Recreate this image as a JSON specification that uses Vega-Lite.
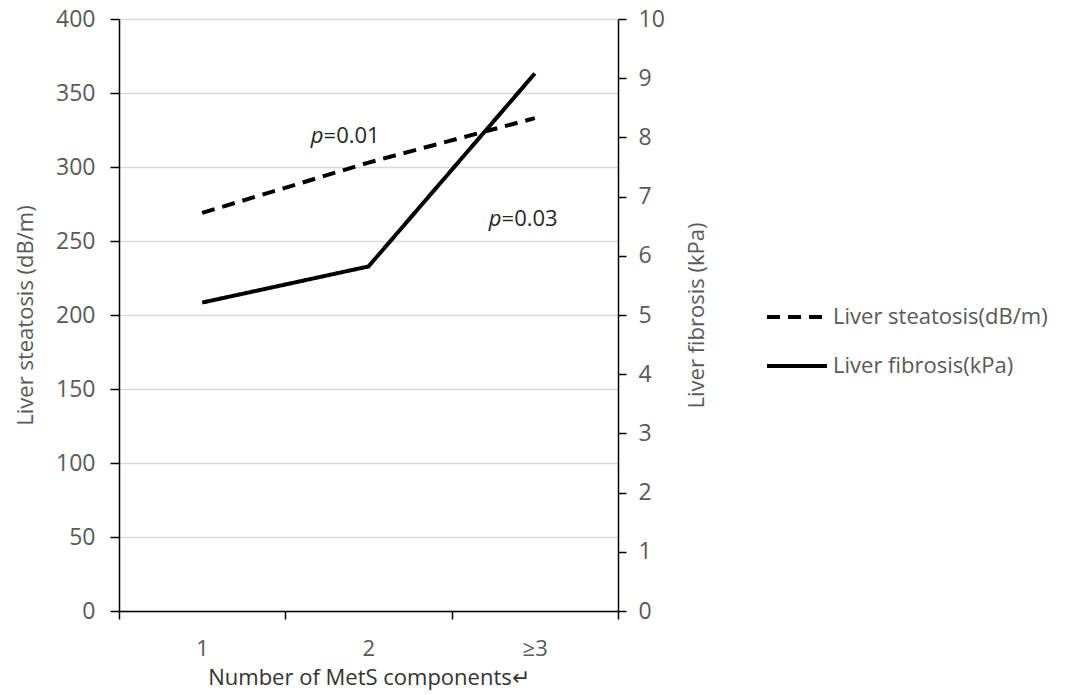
{
  "$schema": "https://vega.github.io/schema/vega-lite/v6.json",
  "width": 499,
  "height": 592,
  "autosize": {"type": "none"},
  "padding": {"left": 119, "top": 19, "right": 465, "bottom": 84},
  "background": "white",
  "config": {
    "font": "Open Sans",
    "view": {"stroke": null},
    "axis": {"labelFont": "Open Sans", "titleFont": "Open Sans", "labelColor": "#595959", "titleColor": "#595959", "titleFontWeight": "normal", "domainColor": "#000000", "tickColor": "#000000", "domainWidth": 1.5, "tickWidth": 1.5}
  },
  "datasets": {
    "main": [
      {"n": 1, "series": "Liver steatosis(dB/m)", "value": 269},
      {"n": 2, "series": "Liver steatosis(dB/m)", "value": 303},
      {"n": 3, "series": "Liver steatosis(dB/m)", "value": 333},
      {"n": 1, "series": "Liver fibrosis(kPa)", "value": 5.21},
      {"n": 2, "series": "Liver fibrosis(kPa)", "value": 5.82},
      {"n": 3, "series": "Liver fibrosis(kPa)", "value": 9.08}
    ],
    "notes": [
      {"x": 1.73, "y": 321, "p": "p", "rest": "=0.01"},
      {"x": 2.8, "y": 265, "p": "p", "rest": "=0.03"}
    ]
  },
  "layer": [
    {
      "data": {"name": "main"},
      "transform": [{"filter": "datum.series === 'Liver steatosis(dB/m)'"}],
      "mark": {"type": "line", "color": "#000000", "strokeWidth": 4, "strokeCap": "butt"},
      "encoding": {
        "x": {"field": "n", "type": "quantitative", "scale": {"domain": [0.5, 3.5], "nice": false, "zero": false},
          "axis": {"values": [0.5, 1.5, 2.5, 3.5], "grid": false, "tickSize": 8, "labelExpr": "datum.value == 0.5 ? '1' : datum.value == 1.5 ? '2' : datum.value == 2.5 ? '≥3' : ''", "labelOffset": 83, "labelPadding": 19, "labelFontSize": 22, "labelBound": false, "labelFlush": false, "labelOverlap": false, "title": "Number of MetS components↵", "titleFontSize": 22, "titleColor": "#333333", "titlePadding": 8}},
        "y": {"field": "value", "type": "quantitative", "scale": {"domain": [0, 400], "nice": false},
          "axis": {"orient": "left", "values": [0, 50, 100, 150, 200, 250, 300, 350, 400], "grid": true, "gridColor": "#d9d9d9", "gridWidth": 1.5, "tickSize": 9, "labelPadding": 15, "labelFontSize": 23, "title": "Liver steatosis (dB/m)", "titleFontSize": 22, "titlePadding": 18}},
        "strokeDash": {"field": "series", "type": "nominal", "scale": {"domain": ["Liver steatosis(dB/m)", "Liver fibrosis(kPa)"], "range": [[13, 8], [1, 0]]},
          "legend": {"orient": "none", "legendX": 646, "legendY": 266, "title": null, "symbolType": "stroke", "symbolSize": 3600, "symbolStrokeWidth": 4, "symbolStrokeColor": "#000000", "labelFontSize": 22, "labelColor": "#595959", "labelFont": "Open Sans", "labelLimit": 0, "rowPadding": 6, "labelOffset": 4}}
      }
    },
    {
      "data": {"name": "main"},
      "transform": [{"filter": "datum.series === 'Liver fibrosis(kPa)'"}],
      "mark": {"type": "line", "color": "#000000", "strokeWidth": 4},
      "encoding": {
        "x": {"field": "n", "type": "quantitative"},
        "y": {"field": "value", "type": "quantitative", "scale": {"domain": [0, 10], "nice": false},
          "axis": {"orient": "right", "values": [0, 1, 2, 3, 4, 5, 6, 7, 8, 9, 10], "grid": false, "tickSize": 8, "labelPadding": 12, "labelFontSize": 23, "title": "Liver fibrosis (kPa)", "titleFontSize": 22, "titleAngle": 270, "titlePadding": 44}},
        "strokeDash": {"field": "series", "type": "nominal"}
      }
    },
    {
      "data": {"name": "notes"},
      "mark": {"type": "text", "align": "right", "baseline": "middle", "fontStyle": "italic", "fontSize": 22, "color": "#262626", "font": "Open Sans"},
      "encoding": {
        "x": {"field": "x", "type": "quantitative"},
        "y": {"field": "y", "type": "quantitative", "scale": {"domain": [0, 400]}, "axis": null},
        "text": {"field": "p"}
      }
    },
    {
      "data": {"name": "notes"},
      "mark": {"type": "text", "align": "left", "baseline": "middle", "fontSize": 22, "color": "#262626", "font": "Open Sans"},
      "encoding": {
        "x": {"field": "x", "type": "quantitative"},
        "y": {"field": "y", "type": "quantitative", "scale": {"domain": [0, 400]}, "axis": null},
        "text": {"field": "rest"}
      }
    }
  ],
  "resolve": {"scale": {"y": "independent"}}
}
